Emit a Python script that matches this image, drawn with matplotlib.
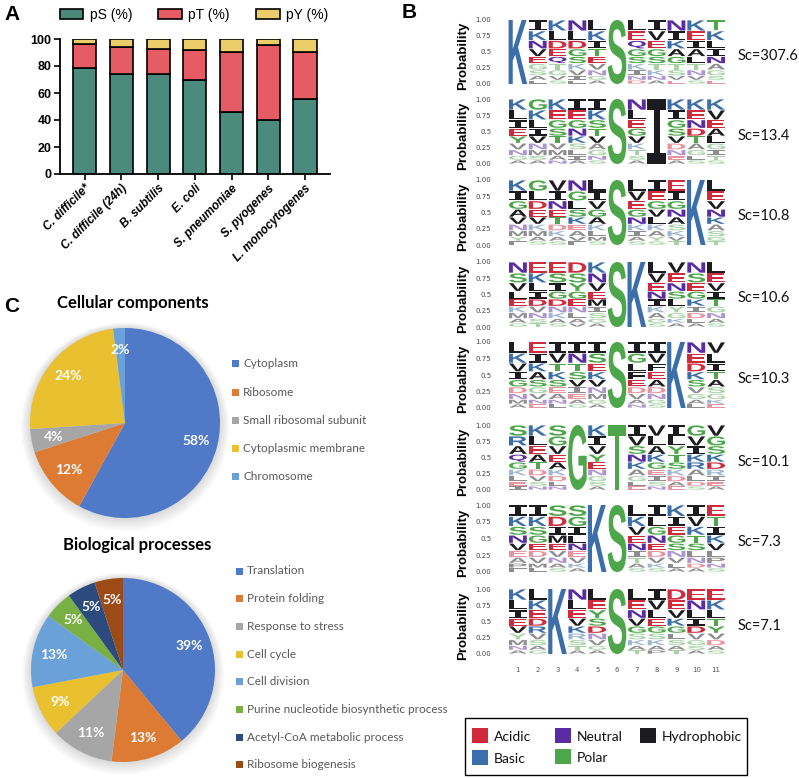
import matplotlib
matplotlib.use('Agg')
import matplotlib.pyplot as plt
from matplotlib.textpath import TextPath
from matplotlib.patches import PathPatch, Rectangle, Circle
from matplotlib.font_manager import FontProperties
from matplotlib.transforms import Affine2D

# ---------------------------------------------------------------- data
species = ['C. difficile*', 'C. difficile (24h)', 'B. subtilis', 'E. coli',
           'S. pneumoniae', 'S. pyogenes', 'L. monocytogenes']
pS = [78.3, 74.1, 74.1, 69.7, 45.8, 40.1, 55.4]
pT = [18.0, 20.2, 18.3, 22.2, 44.6, 55.5, 35.0]
pY = [3.7, 5.7, 7.6, 8.1, 9.6, 4.4, 9.6]

# motifs: one string per position, letters from top to bottom
motifs = [
    ["K", "IKNVEGSAL", "KLDEQTGVS", "NLDGSKVIL", "LKITEVNGA", "S",
     "LEQGSKIND", "IVEGSTKNA", "NIKAGTSVE", "KEIALTNVS", "TKLINAGSE"],
    ["KLIEYVNGA", "GKLIVNMSA", "KEGSTVMAN", "IEGNKSLIA", "IKSTVAGNS", "S",
     "NLEGVKTSA", "I", "KIGSVDNEA", "KENDTAGLS", "KVEALGITS"],
    ["KIGAVNMYF", "GLDEVKMAS", "VINETDKAS", "NGLSKEAVF", "LIVGAKLMS", "S",
     "LVEGNKIAS", "IEGVLKAYS", "EIGNASKVT", "K", "LEVNKASGT"],
    ["NSVLEKMAG", "EKLIDVNST", "ESIGDNKAS", "DSYGENLAV", "KNVEMISGA", "S",
     "K", "LVENIKAGS", "VENSLYGKA", "NSEGKIDLA", "LEVITGNAS"],
    ["LKVIGDNMA", "EIKASGVNE", "IVTKSEANL", "INTSVIEAG", "ISEKVNMGA", "S",
     "IGLFEDVAN", "IVFEADNGS", "K", "NEDKSVGAL", "VLITASGKE"],
    ["SRAQGKLEI", "KLEATDVSN", "SGVEAKDLN", "G", "KIVYENGSA", "T",
     "IVSNKAGLE", "VLAKGEISN", "ILYTSKDAE", "GVIKRALDS", "VGSKDRIEA"],
    ["IKSNVEAPF", "IKSGEDVML", "SDIMEVNAS", "SGILNEVKA", "K", "S",
     "LKVENITAS", "ILGNEDVKS", "KIEGSNVLA", "IVKTSLNDA", "ETIKVLPNS"],
    ["KLIEVYMNA", "LKEDRVSAG", "K", "NLEVKRSTA", "LEYSDNVGA", "S",
     "LENVGSKAT", "IVLEGSKAP", "DEVKGLSAT", "ENLIDVGSA", "EKLTYVDAS"],
]
scores = ['Sc=307.6', 'Sc=13.4', 'Sc=10.8', 'Sc=10.6', 'Sc=10.3', 'Sc=10.1',
          'Sc=7.3', 'Sc=7.1']

cc_labels = ['Cytoplasm', 'Ribosome', 'Small ribosomal subunit',
             'Cytoplasmic membrane', 'Chromosome']
cc_values = [58, 12, 4, 24, 2]
bp_labels = ['Translation', 'Protein folding', 'Response to stress', 'Cell cycle',
             'Cell division', 'Purine nucleotide biosynthetic process',
             'Acetyl-CoA metabolic process', 'Ribosome biogenesis']
bp_values = [39, 13, 11, 9, 13, 5, 5, 5]

# ---------------------------------------------------------------- styles
W, H = 799, 778
fig = plt.figure(figsize=(W / 100, H / 100), dpi=100)


def fx(px):
    return px / W


def fy(py):
    return 1 - py / H


def box(l, t, r, b):
    return [l / W, 1 - b / H, (r - l) / W, (b - t) / H]


ARIAL = 'Liberation Sans'
CALIBRI = 'Lato'

chem = {'acidic': '#d22a3d', 'basic': '#3c6ea9', 'neutral': '#5a2ca3',
        'polar': '#4ea64b', 'hydrophobic': '#1c1c20'}
aa_class = {}
for c in 'DE':
    aa_class[c] = 'acidic'
for c in 'KRH':
    aa_class[c] = 'basic'
for c in 'NQ':
    aa_class[c] = 'neutral'
for c in 'GSTYC':
    aa_class[c] = 'polar'
for c in 'AVLIPWFM':
    aa_class[c] = 'hydrophobic'

# ---------------------------------------------------------------- panel A
axA = fig.add_axes(box(60, 39, 330, 174))
x = list(range(len(species)))
bw = 0.63
b1 = axA.bar(x, pS, bw, color='#4a8b7d', edgecolor='black', lw=1.2)
b2 = axA.bar(x, pT, bw, bottom=pS, color='#e55c64', edgecolor='black', lw=1.2)
b3 = axA.bar(x, pY, bw, bottom=[a + b for a, b in zip(pS, pT)],
             color='#ebcd6a', edgecolor='black', lw=1.2)
axA.set_xlim(-0.67, 6.68)
axA.set_ylim(0, 100)
axA.set_yticks(range(0, 101, 20))
axA.set_xticks(x)
axA.set_xticklabels(species, rotation=45, ha='right', va='top',
                    rotation_mode='anchor', fontstyle='italic',
                    fontweight='bold', fontsize=8.5, family=ARIAL)
for lab in axA.get_yticklabels():
    lab.set_fontweight('bold')
    lab.set_fontsize(9)
    lab.set_family(ARIAL)
axA.tick_params(width=1.2, length=4, pad=2)
for s in ['top', 'right']:
    axA.spines[s].set_visible(False)
for s in ['left', 'bottom']:
    axA.spines[s].set_linewidth(1.3)
fig.legend([b1, b2, b3], ['pS (%)', 'pT (%)', 'pY (%)'], loc='center',
           bbox_to_anchor=(fx(194), fy(15)), ncol=3, frameon=False,
           prop={'family': ARIAL, 'size': 10}, handlelength=1.7,
           handleheight=0.8, columnspacing=1.9, handletextpad=0.45,
           borderpad=0.1)

# ---------------------------------------------------------------- panel B
LETTER_FONT = FontProperties(family=ARIAL, weight='bold')
SERIF_I_FONT = FontProperties(family='DejaVu Sans Mono', weight='bold')
weights = [0.17, 0.15, 0.13, 0.12, 0.11, 0.10, 0.09, 0.07, 0.06]
rows = [(20, 84), (99, 164), (180, 245), (262, 327), (342, 408), (425, 490),
        (505, 572), (589, 654)]


def draw_letter(ax, ch, xc, y0, w, h, color, alpha=1.0):
    prop = SERIF_I_FONT if ch == 'I' else LETTER_FONT
    tp = TextPath((0, 0), ch, size=1, prop=prop)
    bb = tp.get_extents()
    t = (Affine2D().translate(-bb.x0, -bb.y0)
         .scale(w / bb.width, h / bb.height)
         .translate(xc - w / 2, y0))
    ax.add_patch(PathPatch(t.transform_path(tp), fc=color, ec='none',
                           lw=0, alpha=alpha))


for i, (motif, sc) in enumerate(zip(motifs, scores)):
    top, bot = rows[i]
    ax = fig.add_axes(box(508, top, 726, bot))
    ax.set_xlim(0.5, 11.5)
    ax.set_ylim(0, 1)
    for pos, col in enumerate(motif, start=1):
        if len(col) == 1:
            draw_letter(ax, col, pos, 0, 0.94, 1.0, chem[aa_class[col]])
            continue
        wsum = sum(weights[:len(col)])
        y = 1.0
        for k, ch in enumerate(col):
            h = weights[k] / wsum
            y -= h
            alpha = 1.0 if k < 5 else 0.5
            draw_letter(ax, ch, pos, y + 0.006, 0.9, h - 0.012,
                        chem[aa_class[ch]], alpha)
    ax.set_yticks([0, 0.25, 0.5, 0.75, 1.0])
    ax.set_yticklabels(['0.00', '0.25', '0.5', '0.75', '1.00'],
                       fontsize=5, color='#444444')
    ax.tick_params(length=0, pad=12)
    if i == len(motifs) - 1:
        ax.set_xticks(range(1, 12))
        ax.set_xticklabels([str(n) for n in range(1, 12)], fontsize=5,
                           color='#555555')
        ax.tick_params(axis='x', pad=9)
    else:
        ax.set_xticks([])
    for s in ax.spines.values():
        s.set_visible(False)
    mid = (top + bot) / 2
    fig.text(fx(463), fy(mid + 4), 'Probability', rotation=90, ha='center',
             va='center', fontweight='bold', fontsize=9.5, family=ARIAL)
    fig.text(fx(738), fy(mid + 4), sc, ha='left', va='center', fontsize=10.5,
             family=CALIBRI, color='#111111')

# legend for the chemistry colours
fig.add_artist(Rectangle((fx(465), fy(775)), fx(747) - fx(465), fy(718) - fy(775),
                         transform=fig.transFigure, fill=False, ec='black', lw=1))
legend_items = [('Acidic', 'acidic', 472, 728), ('Neutral', 'neutral', 555, 728),
                ('Hydrophobic', 'hydrophobic', 640, 728), ('Basic', 'basic', 472, 750),
                ('Polar', 'polar', 555, 749)]
for name, cls, lx, ly in legend_items:
    fig.add_artist(Rectangle((fx(lx), fy(ly + 15)), 16 / W, 15 / H,
                             transform=fig.transFigure, fc=chem[cls], ec='none'))
    fig.text(fx(lx + 22), fy(ly + 9), name, ha='left', va='center',
             fontsize=10, family=CALIBRI, color='#111111')

# ---------------------------------------------------------------- panel C
cc_colors = ['#5079c8', '#dd7b34', '#a6a6a6', '#e9c130', '#69a1d8']
bp_colors = ['#5079c8', '#dd7b34', '#a6a6a6', '#e9c130', '#69a1d8',
             '#78b044', '#2b4b7e', '#9c4a16']


def draw_pie(cx, cy, r, values, colors, labels, title, tx, ty, lx, ly0, dy):
    ax = fig.add_axes(box(cx - r * 1.15, cy - r * 1.15, cx + r * 1.15, cy + r * 1.15))
    for k in range(8):
        ax.add_patch(Circle((0, -0.006 * k), 1.0 + 0.014 * k, fc='black',
                            ec='none', alpha=0.018, zorder=0))
    wedges, _, autot = ax.pie(values, colors=colors, startangle=90,
                              counterclock=False, radius=1.0,
                              autopct=lambda p: '%d%%' % round(p),
                              pctdistance=0.77,
                              wedgeprops={'linewidth': 0})
    for t in autot:
        t.set_color('white')
        t.set_fontweight('bold')
        t.set_fontsize(10)
        t.set_family(CALIBRI)
    ax.set_xlim(-1.15, 1.15)
    ax.set_ylim(-1.15, 1.15)
    ax.set_aspect('equal')
    ax.axis('off')
    fig.text(fx(tx), fy(ty), title, ha='left', va='center', fontweight='bold',
             fontsize=12, family=CALIBRI)
    for k, (lab, c) in enumerate(zip(labels, colors)):
        yy = ly0 + k * dy
        fig.add_artist(Rectangle((fx(lx), fy(yy + 3.5)), 7 / W, 7 / H,
                                 transform=fig.transFigure, fc=c, ec='none'))
        fig.text(fx(lx + 11), fy(yy), lab, ha='left', va='center',
                 fontsize=8.5, family=CALIBRI, color='#595959')


draw_pie(125, 423, 95, cc_values, cc_colors, cc_labels, 'Cellular components',
         57, 303, 232, 364, 28)
draw_pie(123, 670, 92, bp_values, bp_colors, bp_labels, 'Biological processes',
         63, 545, 236, 571, 27.7)

# ---------------------------------------------------------------- panel letters
fig.text(fx(4), fy(15), 'A', fontsize=15, fontweight='bold', va='center', family=ARIAL)
fig.text(fx(402), fy(12), 'B', fontsize=15, fontweight='bold', va='center', family=ARIAL)
fig.text(fx(4), fy(307), 'C', fontsize=15, fontweight='bold', va='center', family=ARIAL)

fig.savefig('out.png', dpi=100)
